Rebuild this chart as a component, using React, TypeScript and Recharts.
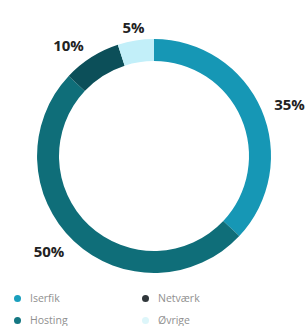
import React from 'react';
import { PieChart, Pie, Cell, Legend } from 'recharts';

const categories = ['Iserfik', 'Hosting', 'Netværk', 'Øvrige'];
const values = [37, 50, 8, 5];
const valueLabels = ['35%', '50%', '10%', '5%'];
const sliceColors = ['#1697b5', '#0f6e79', '#0c4f59', '#c2eff9'];
const legendColors = ['#1a9fbd', '#147782', '#30373b', '#ddf6fa'];
const legendOrder = ['Iserfik', 'Netværk', 'Hosting', 'Øvrige'];

const data = categories.map((name, i) => ({ name, value: values[i] }));

const RAD = Math.PI / 180;

const renderLabel = (p: any) => {
  const r = p.outerRadius + 14;
  const x = p.cx + r * Math.cos(-p.midAngle * RAD);
  const y = p.cy + r * Math.sin(-p.midAngle * RAD);
  const dx = x - p.cx;
  const anchor = Math.abs(dx) < 25 ? 'middle' : dx > 0 ? 'start' : 'end';
  return (
    <text
      x={x}
      y={y}
      textAnchor={anchor}
      dominantBaseline="central"
      fontFamily="'Open Sans', sans-serif"
      fontWeight={700}
      fontSize={15}
      fill="#222"
    >
      {valueLabels[p.index]}
    </text>
  );
};

const renderLegend = () => (
  <div
    style={{
      display: 'grid',
      gridTemplateColumns: '128px 128px',
      rowGap: 6,
      fontFamily: "'Open Sans', sans-serif",
      fontSize: 10.5,
      color: '#8f8f8f',
    }}
  >
    {legendOrder.map((name) => {
      const i = categories.indexOf(name);
      return (
        <div key={name} style={{ display: 'flex', alignItems: 'center', height: 16 }}>
          <span
            style={{
              display: 'inline-block',
              width: 7,
              height: 7,
              borderRadius: '50%',
              background: legendColors[i],
              marginRight: 9,
            }}
          />
          <span>{name}</span>
        </div>
      );
    })}
  </div>
);

export default function App() {
  return (
    <div style={{ position: 'absolute', left: 0, top: 0, background: '#fff' }}>
      <PieChart width={305} height={326}>
        <Pie
          data={data}
          dataKey="value"
          nameKey="name"
          cx={149}
          cy={151}
          innerRadius={95}
          outerRadius={117}
          startAngle={90}
          endAngle={-270}
          stroke="none"
          label={renderLabel}
          labelLine={false}
          isAnimationActive={false}
        >
          {data.map((d, i) => (
            <Cell key={d.name} fill={sliceColors[i]} />
          ))}
        </Pie>
        <Legend
          content={renderLegend}
          wrapperStyle={{ position: 'absolute', left: 14, top: 290, width: 280 }}
        />
      </PieChart>
    </div>
  );
}
